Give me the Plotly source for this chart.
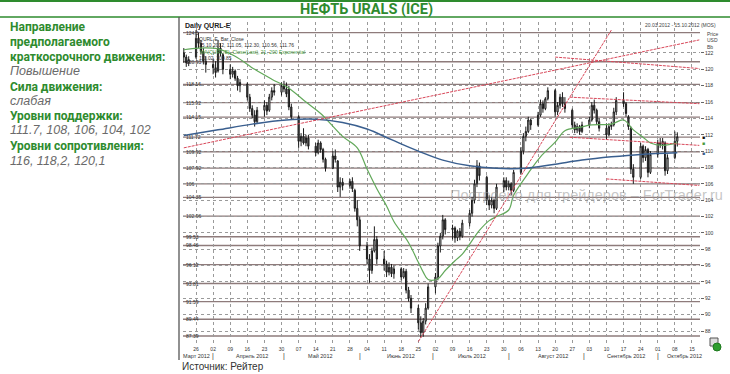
import plotly.graph_objects as go
import pandas as pd

W, H = 730, 374
def px(x): return x / W
def py(y): return 1 - y / H

# ---------------- data ----------------
title_text = "НЕФТЬ URALS (ICE)"
source_text = "Источник: Рейтер"

info_lines = [
    ("Направление", "head"),
    ("предполагаемого", "head"),
    ("краткосрочного движения:", "head"),
    ("Повышение", "val"),
    ("Сила движения:", "head"),
    ("слабая", "val"),
    ("Уровни поддержки:", "head"),
    ("111.7, 108, 106, 104, 102", "val"),
    ("Уровни сопротивления:", "head"),
    ("116, 118,2, 120,1", "val"),
]

dates = pd.bdate_range("2012-03-21", "2012-10-09")

opens = [122.0, 121.5, 120.8,
         121.5, 123.8, 123.2, 122.2, 121.0,
         120.6, 120.2, 119.8, 122.6, 121.8,
         120.0, 119.4, 119.8, 118.9, 118.0,
         118.2, 116.6, 115.2, 114.4, 113.6,
         115.0, 115.6, 115.0, 116.6, 117.4,
         117.2, 118.0, 117.6, 117.6, 115.4,
         114.2, 111.2, 111.8, 111.0, 111.6,
         110.6, 109.8, 111.0, 110.2, 109.0,
         107.9, 109.4, 108.8, 105.6, 106.2,
         105.8, 106.3, 105.2, 103.0, 101.6,
         98.4, 96.8, 95.4, 97.8, 99.2,
         96.8, 96.2, 95.2, 95.8, 95.0,
         95.6, 94.6, 95.3, 93.0, 92.0,
         90.8, 89.0, 87.8, 89.2, 90.8,
         93.4, 94.6, 98.4, 99.6, 101.6,
         100.4, 100.6, 99.4, 100.2, 99.6,
         101.2, 102.4, 104.0, 106.0, 108.2,
         106.8, 104.0, 103.4, 104.0, 103.0,
         105.6, 106.4, 105.6, 106.0, 105.2,
         107.4, 110.0, 111.8, 112.4, 113.8,
         113.2, 114.4, 115.8, 115.2, 116.4,
         117.4, 114.8, 115.6, 116.6, 115.8,
         115.0, 113.2, 112.6, 113.0, 112.4,
         113.2, 113.8, 115.6, 115.0, 113.6,
         112.8, 112.0, 113.0, 113.2, 114.8,
         116.2, 115.8, 114.2, 112.8, 107.8,
         106.8, 110.6, 109.2, 110.2, 107.4,
         109.6, 111.0, 110.8, 111.0, 107.6,
         109.2, 111.2]

highs = [122.6, 121.8, 121.6,
         124.8, 124.5, 123.6, 122.6, 121.6,
         121.2, 121.0, 123.6, 123.2, 122.0,
         120.6, 120.3, 120.0, 119.2, 118.8,
         118.4, 117.0, 115.6, 115.0, 115.4,
         116.2, 116.0, 117.0, 117.8, 118.2,
         118.4, 118.6, 118.4, 118.0, 115.8,
         114.4, 112.2, 112.8, 112.0, 112.0,
         111.0, 111.4, 111.2, 110.4, 109.2,
         110.0, 110.2, 108.9, 106.8, 106.7,
         106.6, 106.8, 105.4, 104.0, 102.0,
         98.9, 97.4, 98.2, 100.8, 99.6,
         97.8, 96.6, 96.4, 96.2, 96.0,
         95.8, 95.7, 95.6, 93.4, 92.4,
         91.2, 89.8, 89.6, 91.4, 93.8,
         95.1, 98.8, 100.0, 102.2, 101.8,
         101.0, 100.8, 100.4, 100.6, 101.6,
         102.8, 104.4, 106.5, 108.9, 108.6,
         107.0, 104.6, 104.4, 104.2, 106.0,
         106.8, 106.8, 106.4, 106.2, 107.7,
         110.5, 112.2, 113.0, 114.2, 114.0,
         114.8, 116.3, 116.2, 116.6, 117.8,
         117.6, 116.0, 117.0, 117.2, 116.6,
         115.2, 113.6, 113.4, 113.2, 113.6,
         114.2, 116.0, 116.3, 115.2, 114.0,
         113.4, 113.4, 113.6, 115.3, 116.6,
         117.2, 116.0, 114.4, 113.0, 108.4,
         111.0, 110.8, 110.6, 110.4, 110.0,
         111.4, 111.6, 111.6, 111.2, 109.6,
         112.4, 112.3]

lows = [120.8, 120.3, 120.4,
        121.3, 122.6, 121.8, 120.6, 119.6,
        119.4, 119.0, 119.6, 121.6, 119.4,
        118.8, 119.0, 118.6, 117.4, 117.2,
        116.2, 114.8, 114.0, 113.0, 113.4,
        114.2, 114.4, 114.8, 116.2, 116.8,
        116.8, 117.2, 116.6, 115.0, 113.8,
        110.4, 110.6, 110.8, 110.6, 110.2,
        109.4, 109.6, 109.8, 108.6, 107.5,
        107.8, 108.6, 105.0, 104.4, 105.2,
        105.4, 105.0, 102.6, 100.8, 97.8,
        96.2, 93.9, 95.0, 97.6, 96.2,
        95.4, 94.6, 94.8, 94.6, 94.4,
        94.2, 94.4, 92.6, 91.6, 90.2,
        88.2, 87.2, 87.3, 88.8, 90.6,
        92.6, 94.2, 97.6, 99.2, 99.8,
        99.2, 98.8, 99.0, 99.1, 99.4,
        100.8, 102.0, 103.6, 105.6, 106.4,
        103.4, 102.8, 103.0, 102.4, 102.8,
        105.0, 105.2, 105.2, 104.6, 105.0,
        107.2, 109.6, 111.2, 112.2, 112.6,
        113.0, 114.2, 114.7, 115.0, 116.2,
        114.2, 114.4, 115.2, 115.4, 114.7,
        112.8, 112.2, 112.2, 112.0, 112.2,
        112.8, 113.6, 114.6, 113.2, 112.4,
        111.4, 111.8, 112.6, 113.0, 114.4,
        115.4, 114.2, 112.6, 107.2, 106.0,
        106.6, 108.6, 108.8, 106.8, 107.2,
        109.2, 110.4, 110.2, 107.0, 107.2,
        109.0, 110.56]

closes = [121.5, 120.8, 121.2,
          123.8, 123.2, 122.2, 121.0, 120.6,
          120.2, 119.6, 122.6, 122.0, 120.0,
          119.4, 119.8, 118.9, 118.0, 118.4,
          116.6, 115.2, 114.4, 113.6, 115.0,
          115.6, 114.9, 116.6, 117.4, 117.2,
          118.0, 117.6, 117.0, 115.4, 114.2,
          111.2, 111.8, 111.0, 111.6, 110.6,
          109.8, 111.0, 110.2, 109.0, 107.9,
          109.4, 109.0, 105.6, 106.2, 105.8,
          106.3, 105.4, 103.0, 101.6, 98.4,
          96.8, 95.4, 97.8, 99.2, 96.8,
          96.2, 95.2, 95.8, 95.0, 95.6,
          94.6, 95.3, 93.0, 92.0, 90.8,
          89.0, 87.8, 89.2, 90.8, 93.4,
          94.6, 98.4, 99.6, 101.6, 100.4,
          100.6, 99.4, 100.2, 99.6, 101.2,
          102.4, 104.0, 106.0, 108.2, 107.0,
          104.0, 103.4, 104.0, 103.0, 105.6,
          106.4, 105.6, 106.0, 105.2, 107.4,
          110.0, 111.8, 112.4, 113.8, 113.2,
          114.4, 115.8, 115.2, 116.4, 117.4,
          114.8, 115.6, 116.6, 115.8, 115.2,
          113.2, 112.6, 113.0, 112.4, 113.2,
          113.8, 115.6, 115.0, 113.6, 112.8,
          112.0, 113.0, 113.2, 114.8, 116.2,
          115.8, 114.6, 113.0, 107.8, 106.8,
          110.6, 109.2, 110.2, 107.4, 109.6,
          111.0, 110.8, 111.2, 107.6, 109.2,
          111.2, 111.76]

ma_short_dates = ["2012-03-21", "2012-03-27", "2012-04-04", "2012-04-11", "2012-04-19",
                  "2012-04-26", "2012-05-03", "2012-05-10", "2012-05-16", "2012-05-25",
                  "2012-05-31", "2012-06-04", "2012-06-08", "2012-06-12", "2012-06-15",
                  "2012-06-21", "2012-06-25", "2012-06-27", "2012-06-29", "2012-07-03",
                  "2012-07-06", "2012-07-10", "2012-07-13", "2012-07-20", "2012-07-24",
                  "2012-07-27", "2012-08-01", "2012-08-03", "2012-08-09", "2012-08-14",
                  "2012-08-20", "2012-08-24", "2012-08-30", "2012-09-04", "2012-09-12",
                  "2012-09-17", "2012-09-21", "2012-09-25", "2012-09-28", "2012-10-03",
                  "2012-10-09"]
ma_short_vals = [122.4, 122.6, 122.5, 121.6, 120.0,
                 118.8, 117.7, 116.0, 114.6, 111.8,
                 110.4, 107.8, 105.4, 103.3, 101.4,
                 98.8, 96.4, 95.2, 94.3, 94.4,
                 95.4, 96.6, 97.4, 100.3, 101.5,
                 102.0, 102.8, 104.6, 107.3, 109.3,
                 111.1, 112.5, 112.9, 113.2, 113.3,
                 113.8, 112.6, 111.7, 111.0, 110.7,
                 111.0]

ma_long_dates = ["2012-03-21", "2012-04-04", "2012-04-18", "2012-05-02", "2012-05-14",
                 "2012-05-25", "2012-06-04", "2012-06-14", "2012-06-25", "2012-07-05",
                 "2012-07-16", "2012-07-27", "2012-08-08", "2012-08-20", "2012-08-31",
                 "2012-09-12", "2012-09-24", "2012-10-09"]
ma_long_vals = [111.9, 112.6, 113.3, 113.8, 113.9,
                113.5, 112.7, 111.4, 110.0, 108.9,
                108.2, 107.9, 107.9, 108.4, 108.9,
                109.3, 109.6, 109.8]

trend_x0 = ["2012-03-21", "2012-06-25", "2012-08-20", "2012-08-26", "2012-08-26", "2012-09-10"]
trend_y0 = [110.4, 86.7, 121.5, 116.6, 111.7, 106.6]
trend_x1 = ["2012-10-18", "2012-09-12", "2012-10-18", "2012-10-18", "2012-10-18", "2012-10-18"]
trend_y1 = [123.6, 124.8, 120.1, 115.8, 110.7, 105.8]

level_vals = [124.5, 120.93, 118.16, 115.92, 114.15, 111.72, 109.92, 107.92, 106.0,
              104.35, 102.06, 99.53, 98.46, 96.12, 93.81, 91.59, 89.44, 87.39]
level_labels = ["124.5", "120.93", "118.16", "115.92", "114.15", "111.72", "109.92", "107.92", "106",
                "104.35", "102.06", "99.53", "98.46", "96.12", "93.81", "91.59", "89.44", "87.39"]

week_ticks = pd.date_range("2012-03-26", "2012-10-15", freq="7D")
day_labels = ["26", "02", "09", "16", "23", "30", "07", "14", "21", "28", "04", "11", "18", "25",
              "02", "09", "16", "23", "30", "06", "13", "20", "27", "03", "10", "17", "24",
              "01", "08", "15"]
price_ticks = list(range(88, 123, 2))

month_names = ["Март 2012", "Апрель 2012", "Май 2012", "Июнь 2012", "Июль 2012",
               "Август 2012", "Сентябрь 2012", "Октябрь 2012"]
month_label_dates = ["2012-03-26", "2012-04-18", "2012-05-16", "2012-06-18", "2012-07-17",
                     "2012-08-19", "2012-09-18", "2012-10-12"]
month_sep_dates = ["2012-04-02", "2012-05-01", "2012-06-01", "2012-07-01", "2012-08-01",
                   "2012-09-01", "2012-10-01"]

legend_lines = ["QURL-E, Bar, Close", "15.10.2012, 111.05, 112.30, 110.56, 111.76"]
ma_legend = "MA(QURL-E), Close(Last), 21, 200 Exponential"
ma_values_text = "111.02, 109.85"

# ---------------- figure ----------------
GREEN = "#2e8b2e"
fig = go.Figure()

fig.add_trace(go.Candlestick(
    x=dates, open=opens, high=highs, low=lows, close=closes,
    increasing=dict(line=dict(color="#1a1a1a", width=1), fillcolor="white"),
    decreasing=dict(line=dict(color="#1a1a1a", width=1), fillcolor="#555555"),
    whiskerwidth=0, hoverinfo="skip"))

fig.add_trace(go.Scatter(x=ma_short_dates, y=ma_short_vals, mode="lines",
                         line=dict(color="#62a85a", width=1.2, shape="spline")))
fig.add_trace(go.Scatter(x=ma_long_dates, y=ma_long_vals, mode="lines",
                         line=dict(color="#3a5f8f", width=1.5, shape="spline")))

for i in range(len(trend_x0)):
    fig.add_trace(go.Scatter(x=[trend_x0[i], trend_x1[i]], y=[trend_y0[i], trend_y1[i]],
                             mode="lines", line=dict(color="#d9485a", width=1, dash="3px,1px")))

shapes = []
for v in level_vals:
    shapes.append(dict(type="line", xref="paper", yref="y", x0=px(183), x1=px(700), y0=v, y1=v,
                       line=dict(color="#8e7b7b", width=1.3), layer="below"))

# frame lines
shapes.append(dict(type="line", xref="paper", yref="paper", x0=0, x1=1, y0=py(1), y1=py(1),
                   line=dict(color=GREEN, width=2)))
shapes.append(dict(type="line", xref="paper", yref="paper", x0=0, x1=1, y0=py(17), y1=py(17),
                   line=dict(color=GREEN, width=1.5)))
shapes.append(dict(type="line", xref="paper", yref="paper", x0=px(179), x1=px(179), y0=py(17), y1=py(360),
                   line=dict(color="#555555", width=1.3)))
# small icon bottom-right
shapes.append(dict(type="rect", xref="paper", yref="paper", x0=px(710), x1=px(718), y0=py(346), y1=py(338),
                   line=dict(color="#555", width=1), fillcolor="#dddddd"))
shapes.append(dict(type="circle", xref="paper", yref="paper", x0=px(713), x1=px(721), y0=py(351), y1=py(343),
                   line=dict(color="#1f7a1f", width=1), fillcolor="#2e9e2e"))

ann = []
FONT = "Roboto, Liberation Sans, Arial, sans-serif"
ann.append(dict(text=f"<b>{title_text}</b>", x=px(366), y=py(9.5), xref="paper", yref="paper",
                showarrow=False, xanchor="center", yanchor="middle",
                font=dict(family=FONT, size=14.5, color=GREEN)))

ys = [27, 41.5, 56.5, 71, 86.5, 101, 116, 130.5, 146, 160.5]
for (t, kind), yy in zip(info_lines, ys):
    if kind == "head":
        ann.append(dict(text=f"<b>{t}</b>", x=px(8), y=py(yy), xref="paper", yref="paper", showarrow=False,
                        xanchor="left", yanchor="middle", font=dict(family=FONT, size=12, color=GREEN)))
    else:
        ann.append(dict(text=f"<i>{t}</i>", x=px(8), y=py(yy), xref="paper", yref="paper", showarrow=False,
                        xanchor="left", yanchor="middle", font=dict(family="Liberation Sans, Arial", size=12.5, color="#6a6a6a")))

ann.append(dict(text=source_text, x=px(180), y=py(366), xref="paper", yref="paper", showarrow=False,
                xanchor="left", yanchor="middle", font=dict(family="Liberation Sans, Arial", size=10, color="#333")))

# legend text in chart
ann.append(dict(text="<b>Daily QURL-E</b>", x=px(183), y=py(26), xref="paper", yref="paper", showarrow=False,
                xanchor="left", yanchor="middle", font=dict(family="Liberation Sans, Arial", size=7, color="#222")))
for t, yy in zip(legend_lines, [39, 45]):
    ann.append(dict(text=t, x=px(197), y=py(yy), xref="paper", yref="paper", showarrow=False,
                    xanchor="left", yanchor="middle", font=dict(family="Liberation Sans, Arial", size=5, color="#333")))
ann.append(dict(text=ma_legend, x=px(198), y=py(52), xref="paper", yref="paper", showarrow=False,
                xanchor="left", yanchor="middle", font=dict(family="Liberation Sans, Arial", size=5, color="#4a9a40")))
ann.append(dict(text=ma_values_text, x=px(197), y=py(58), xref="paper", yref="paper", showarrow=False,
                xanchor="left", yanchor="middle", font=dict(family="Liberation Sans, Arial", size=5, color="#333")))

ann.append(dict(text="20.03.2012 - 15.10.2012 (MOS)", x=px(718), y=py(25), xref="paper", yref="paper",
                showarrow=False, xanchor="right", yanchor="middle",
                font=dict(family="Liberation Sans, Arial", size=5, color="#444")))
for t, yy in zip(["Price", "USD", "Bb"], [34, 40.5, 47]):
    ann.append(dict(text=t, x=px(705), y=py(yy), xref="paper", yref="paper", showarrow=False,
                    xanchor="left", yanchor="middle", font=dict(family="Liberation Sans, Arial", size=5, color="#444")))

# level labels
for v, t in zip(level_vals, level_labels):
    ann.append(dict(text=t, x=px(184), y=v, xref="paper", yref="y", showarrow=False,
                    xanchor="left", yanchor="middle", font=dict(family="Liberation Sans, Arial", size=5, color="#333")))

# month labels
for name, d in zip(month_names, month_label_dates):
    ann.append(dict(text=name, x=d, y=py(356), xref="x", yref="paper", showarrow=False,
                    xanchor="center", yanchor="middle", font=dict(family="Liberation Sans, Arial", size=5.5, color="#333")))
for d in month_sep_dates:
    ann.append(dict(text="|", x=d, y=py(355.5), xref="x", yref="paper", showarrow=False,
                    xanchor="center", yanchor="middle", font=dict(family="Liberation Sans, Arial", size=7, color="#333")))

# last value markers on the right axis
for val, col in [(closes[-1], "#111111"), (ma_short_vals[-1], "#4a9a40"), (ma_long_vals[-1], "#3a5f8f")]:
    ann.append(dict(text="■", x=px(703), y=val, xref="paper", yref="y", showarrow=False,
                    xanchor="center", yanchor="middle", font=dict(size=5, color=col)))

# watermark
ann.append(dict(text="Построено для трейдеров – ForTrader.ru", x=px(586), y=py(195), xref="paper", yref="paper",
                showarrow=False, xanchor="center", yanchor="middle",
                font=dict(family="Liberation Sans, Arial", size=14.5, color="rgba(150,150,150,0.55)")))

fig.update_layout(
    width=W, height=H, margin=dict(l=0, r=0, t=0, b=0),
    paper_bgcolor="white", plot_bgcolor="white", showlegend=False,
    shapes=shapes, annotations=ann,
    xaxis=dict(domain=[px(183), px(700)], type="date",
               range=["2012-03-20 16:00", "2012-10-18 07:00"],
               tickvals=week_ticks, ticktext=day_labels,
               tickfont=dict(family="Liberation Sans, Arial", size=5, color="#333"),
               showgrid=True, gridcolor="#9a9a9a", griddash="dot", gridwidth=1,
               rangeslider=dict(visible=False), ticks="", showline=False, zeroline=False),
    yaxis=dict(domain=[py(345), py(22)], range=[86.29, 125.79], side="right",
               tickvals=price_ticks, ticktext=[str(v) for v in price_ticks],
               tickfont=dict(family="Liberation Sans, Arial", size=5, color="#333"),
               showgrid=True, gridcolor="#9a9a9a", griddash="dot", gridwidth=1,
               ticks="outside", ticklen=3, tickcolor="#666", zeroline=False, showline=False),
)

fig.write_html("out.html")
